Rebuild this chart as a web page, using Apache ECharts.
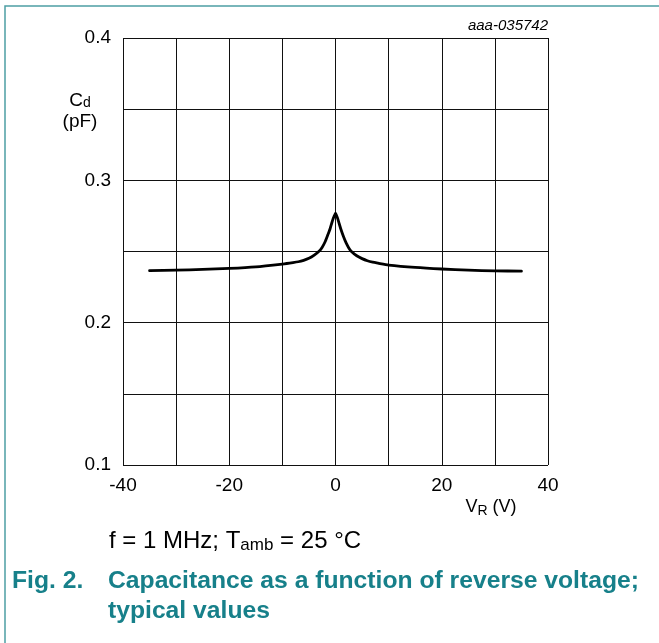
<!DOCTYPE html>
<html><head><meta charset="utf-8">
<script src="https://cdn.jsdelivr.net/npm/echarts@6/dist/echarts.min.js"></script>
<style>html,body{margin:0;padding:0;background:#fff}#c{width:659px;height:643px}</style>
</head><body><div id="c"></div>
<script>
const voltage = [-35,-30,-25,-20,-15,-10,-8,-7,-6,-5,-4,-3,-2.5,-2,-1.5,-1,-0.7,-0.4,-0.2,0,
  0.2,0.4,0.7,1,1.5,2,2.5,3,4,5,6,7,8,10,15,20,25,30,35];
const capacitance = [0.2365,0.2369,0.2374,0.2381,0.2392,0.2412,0.2422,0.2428,0.2438,0.2452,0.2475,0.2505,0.2530,0.2565,0.2612,0.2662,0.2700,0.2735,0.2752,0.2770,
  0.2752,0.2733,0.2695,0.2658,0.2605,0.2560,0.2525,0.2500,0.2470,0.2450,0.2435,0.2425,0.2418,0.2405,0.2388,0.2377,0.2369,0.2364,0.2362];
const xLabels = [-40,-20,0,20,40];
const yLabels = [0.1,0.2,0.3,0.4];

const font = '"Liberation Sans", Arial, sans-serif';
const teal = '#17808a';
const chart = echarts.init(document.getElementById('c'), null, {renderer:'canvas'});
chart.setOption({
  animation:false,
  backgroundColor:'#fff',
  grid:{left:123,right:111,top:38,bottom:178,containLabel:false},
  xAxis:{type:'value',min:-40,max:40,interval:10,
    axisLine:{show:false},axisTick:{show:false},
    splitLine:{show:true,lineStyle:{color:'#111',width:1}},
    axisLabel:{color:'#000',fontFamily:font,fontSize:19,margin:11,
      formatter:v=>xLabels.includes(v)?String(v):''}},
  yAxis:{type:'value',min:0.1,max:0.4,interval:0.05,
    axisLine:{show:false},axisTick:{show:false},
    splitLine:{show:true,lineStyle:{color:'#111',width:1}},
    axisLabel:{color:'#000',fontFamily:font,fontSize:19,margin:12,padding:[4,0,0,0],
      formatter:v=>{const r=Math.round(v*100)/100;return yLabels.some(t=>Math.abs(t-r)<1e-6)?r.toFixed(1):'';}}},
  series:[{type:'line',data:voltage.map((v,i)=>[v,capacitance[i]]),
    showSymbol:false,smooth:0.2,
    lineStyle:{color:'#000',width:2.8,join:'round',cap:'round'}}],
  graphic:[
    {type:'rect',shape:{x:5,y:6,width:700,height:700},style:{fill:'none',stroke:'#4d9fa4',lineWidth:1.5},z:0},
    {type:'text',x:548,y:18,style:{text:'aaa-035742',font:'italic 15px '+font,fill:'#000',align:'right',verticalAlign:'top'}},
    {type:'text',x:80,y:90,style:{text:'{m|C}{s|d}\n{m|(pF)}',align:'center',verticalAlign:'top',
      rich:{m:{fontFamily:font,fontSize:19,fill:'#000',lineHeight:21},s:{fontFamily:font,fontSize:14,fill:'#000',padding:[6,0,0,0],lineHeight:21}}}},
    {type:'text',x:491,y:497,style:{text:'{m|V}{s|R}{m| (V)}',align:'center',verticalAlign:'top',
      rich:{m:{fontFamily:font,fontSize:18,fill:'#000'},s:{fontFamily:font,fontSize:14,fill:'#000',padding:[7,0,0,0]}}}},
    {type:'text',x:109,y:528,style:{text:'{m|f = 1 MHz; T}{s|amb}{m| = 25 °C}',verticalAlign:'top',
      rich:{m:{fontFamily:font,fontSize:24,fill:'#000'},s:{fontFamily:font,fontSize:17,fill:'#000',padding:[9,0,0,0]}}}},
    {type:'text',x:12,y:566,style:{text:'Fig. 2.',font:'bold 24.7px '+font,fill:teal,verticalAlign:'top',lineHeight:30}},
    {type:'text',x:108,y:566,style:{text:'Capacitance as a function of reverse voltage;\ntypical values',font:'bold 24.7px '+font,fill:teal,lineHeight:30,verticalAlign:'top'}}
  ]
});
</script></body></html>
